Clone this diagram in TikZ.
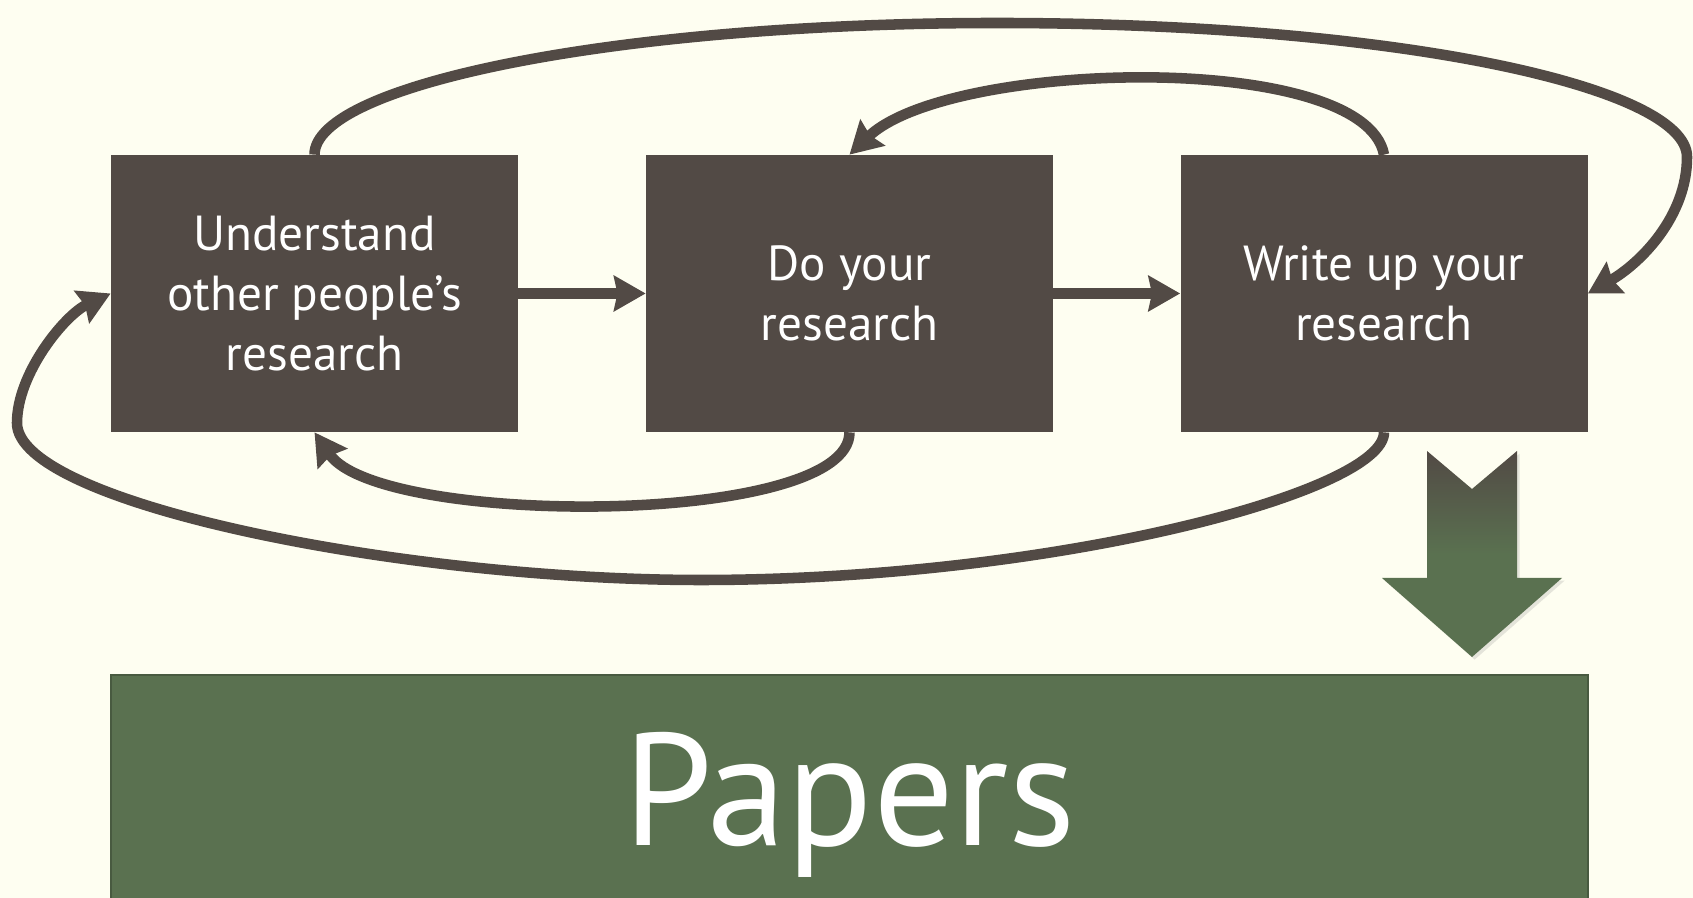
\documentclass[tikz,border=0pt]{standalone}
\usepackage{fontspec}
\setmainfont{PT Sans}
\usetikzlibrary{arrows.meta}
\usetikzlibrary{shadows}
\pgfdeclarelayer{bglayer}
\pgfdeclarelayer{edgelayer}
\pgfdeclarelayer{nodelayer}
\pgfsetlayers{bglayer,edgelayer,nodelayer,main}
\definecolor{boxbrown}{HTML}{524A45}
\definecolor{papergreen}{HTML}{5A7150}
\definecolor{paper}{HTML}{FEFEF1}
\tikzstyle{stage}=[rectangle,fill=boxbrown,text=white,minimum width=8.14cm,minimum height=5.54cm,align=center,font=\fontsize{28}{34}\selectfont]
\tikzstyle{output}=[rectangle,fill=papergreen,draw=papergreen!80!black,line width=0.6pt,text=white,minimum width=29.54cm,minimum height=5.2cm,font=\fontsize{91}{100}\selectfont]
\tikzstyle{transition}=[-{Stealth[length=18pt,width=20pt,inset=2pt]},draw=boxbrown,line width=6pt]
\tikzstyle{bigarrow}=[top color=boxbrown,bottom color=papergreen,middle color=papergreen,drop shadow={shadow xshift=1.5pt,shadow yshift=-1.5pt,opacity=0.2}]

\begin{document}
\begin{tikzpicture}[x=2cm,y=2cm]
	\useasboundingbox (0,0) rectangle (16.93,8.98);
	\begin{pgfonlayer}{bglayer}
		\fill [paper] (0,0) rectangle (16.93,8.98);
	\end{pgfonlayer}
	\begin{pgfonlayer}{nodelayer}
		\node [style=stage] (0) at (3.145, 6.045) {Understand\\other people's\\research};
		\node [style=stage] (1) at (8.495, 6.045) {Do your\\research};
		\node [style=stage] (2) at (13.84, 6.045) {Write up your\\research};
		\node [style=output] (3) at (8.495, 0.93) {Papers};
		\path [style=bigarrow] (14.27,4.47) -- (14.72,4.09) -- (15.17,4.47) -- (15.17,3.2) -- (15.62,3.2) -- (14.72,2.41) -- (13.82,3.2) -- (14.27,3.2) -- cycle;
	\end{pgfonlayer}
	\begin{pgfonlayer}{edgelayer}
		\draw [style=transition] (0) to (1);
		\draw [style=transition] (1) to (2);
		\draw [style=transition] (0.north) .. controls +(0,0.7) and +(-3.8,0) .. (9.97,8.75) .. controls +(4,0) and +(0,0.7) .. (16.87,7.41) .. controls +(0,-0.6) and +(30:0.6) .. (2.east);
		\draw [style=transition] (2.north) .. controls +(-0.2,1.05) and +(1,0.95) .. (1.north);
		\draw [style=transition] (1.south) .. controls +(0,-0.95) and +(0.65,-0.95) .. (0.south);
		\draw [style=transition] (2.south) .. controls +(0,-0.6) and +(3.5,0) .. (7.01,3.18) .. controls +(-3,0) and +(0,-0.8) .. (0.17,4.75) .. controls +(0,0.5) and +(205:0.5) .. (0.west);
	\end{pgfonlayer}
\end{tikzpicture}
\end{document}
